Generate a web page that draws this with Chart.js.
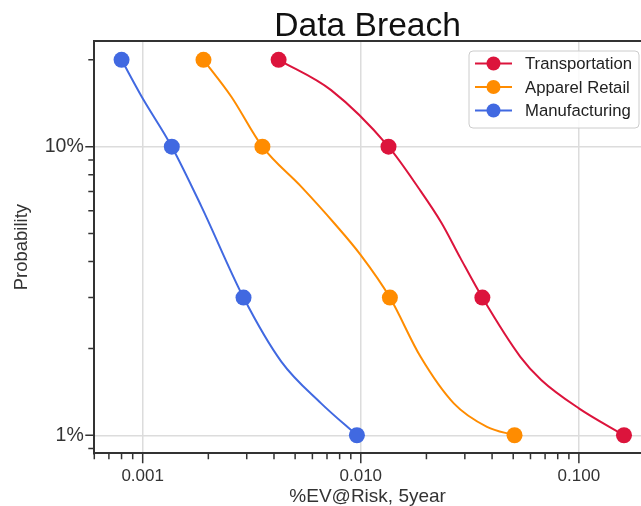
<!DOCTYPE html>
<html lang="en">
<head>
  <meta charset="UTF-8" />
  <title>Data Breach</title>
  <script src="https://cdn.jsdelivr.net/npm/chart.js"></script>
  <style>
    html, body { margin: 0; padding: 0; background: #fff; }
  </style>
</head>
<body>
  <canvas id="chart" width="641" height="506"></canvas>
  <script>
    // data
    const seriesNames = ['Transportation', 'Apparel Retail', 'Manufacturing'];
    const seriesColors = ['#DC143C', '#FF8C00', '#4169E1'];
    const probability = [0.20, 0.10, 0.03, 0.01];
    const transportation = [0.0042, 0.0134, 0.0361, 0.161];
    const apparelRetail = [0.0019, 0.00354, 0.0136, 0.0507];
    const manufacturing = [0.0008, 0.00136, 0.0029, 0.0096];

    // the drawn curves (markers included)
    const transportationCurveX = [0.0042, 0.00731, 0.0134, 0.0184, 0.02346, 0.02864, 0.0361, 0.0539, 0.0672, 0.1, 0.161];
    const transportationCurveY = [0.20, 0.157, 0.10, 0.0719, 0.0544, 0.0411, 0.03, 0.0187, 0.01555, 0.0124, 0.01];
    const apparelCurveX = [0.0019, 0.00255, 0.00354, 0.00533, 0.00754, 0.0100, 0.0136, 0.0188, 0.0267, 0.0379, 0.0507];
    const apparelCurveY = [0.20, 0.149, 0.10, 0.0727, 0.0544, 0.0421, 0.03, 0.0187, 0.0129, 0.0107, 0.01];
    const manufacturingCurveX = [0.0008, 0.00099, 0.00136, 0.00186, 0.0029, 0.00432, 0.00658, 0.0096];
    const manufacturingCurveY = [0.20, 0.149, 0.10, 0.062, 0.03, 0.018, 0.0129, 0.01];

    const xMajorTicks = [0.001, 0.01, 0.1];
    const yMajorTicks = [0.01, 0.1];

    const seriesX = [transportation, apparelRetail, manufacturing];
    const curvesX = [transportationCurveX, apparelCurveX, manufacturingCurveX];
    const curvesY = [transportationCurveY, apparelCurveY, manufacturingCurveY];
    const FONT = 'Liberation Sans';
    Chart.defaults.font.family = FONT;

    const isMajor = (v, list) => list.some(m => Math.abs(v / m - 1) < 1e-6);

    // 1..9 x 10^n ticks inside the axis range
    function logTicks(min, max) {
      const out = [];
      for (let e = Math.floor(Math.log10(min)); e <= Math.ceil(Math.log10(max)); e++) {
        for (let m = 1; m <= 9; m++) {
          const v = m * Math.pow(10, e);
          if (v >= min && v <= max) out.push({ value: v });
        }
      }
      return out;
    }

    const frame = {
      id: 'frame',
      afterDraw(chart) {
        const { ctx, chartArea: a, scales } = chart;
        ctx.save();
        ctx.strokeStyle = '#333';
        ctx.lineWidth = 1.5;
        ctx.beginPath();
        scales.x.ticks.forEach(t => {
          const px = scales.x.getPixelForValue(t.value);
          const len = isMajor(t.value, xMajorTicks) ? 10 : 6;
          ctx.moveTo(px, a.bottom);
          ctx.lineTo(px, a.bottom + len);
        });
        scales.y.ticks.forEach(t => {
          const py = scales.y.getPixelForValue(t.value);
          const len = isMajor(t.value, yMajorTicks) ? 9 : 6;
          ctx.moveTo(a.left, py);
          ctx.lineTo(a.left - len, py);
        });
        ctx.stroke();
        // top spine
        ctx.lineWidth = 2;
        ctx.beginPath();
        ctx.moveTo(a.left - 1, a.top);
        ctx.lineTo(a.right, a.top);
        ctx.stroke();

        // legend box
        const lx = a.right - 172, ly = a.top + 10, lw = 170, lh = 77;
        ctx.fillStyle = 'rgba(255,255,255,0.85)';
        ctx.strokeStyle = '#cccccc';
        ctx.lineWidth = 1;
        ctx.beginPath();
        ctx.roundRect(lx, ly, lw, lh, 4);
        ctx.fill();
        ctx.stroke();
        chart.data.datasets.filter(ds => ds.showLine === false).forEach((ds, i) => {
          const cy = ly + 12.5 + i * 23.5;
          ctx.strokeStyle = ds.borderColor;
          ctx.lineWidth = 2;
          ctx.beginPath();
          ctx.moveTo(lx + 6, cy);
          ctx.lineTo(lx + 43, cy);
          ctx.stroke();
          ctx.fillStyle = ds.borderColor;
          ctx.beginPath();
          ctx.arc(lx + 24.5, cy, 7, 0, Math.PI * 2);
          ctx.fill();
          ctx.fillStyle = '#222';
          ctx.font = '16.7px "' + FONT + '"';
          ctx.textBaseline = 'middle';
          ctx.textAlign = 'left';
          ctx.fillText(ds.label, lx + 56, cy + 1);
        });
        ctx.restore();
      }
    };

    const lineSets = seriesNames.map((name, i) => ({
      label: name + ' curve',
      data: curvesX[i].map((x, j) => ({ x: x, y: curvesY[i][j] })),
      borderColor: seriesColors[i],
      borderWidth: 2,
      pointRadius: 0,
      pointHoverRadius: 0,
      cubicInterpolationMode: 'monotone',
      fill: false,
      order: 2
    }));
    const markerSets = seriesNames.map((name, i) => ({
      label: name,
      data: seriesX[i].map((x, j) => ({ x: x, y: probability[j] })),
      borderColor: seriesColors[i],
      backgroundColor: seriesColors[i],
      showLine: false,
      pointRadius: 8,
      pointHoverRadius: 8,
      pointBorderWidth: 0,
      order: 1
    }));

    new Chart(document.getElementById('chart'), {
      type: 'line',
      data: { datasets: lineSets.concat(markerSets) },
      options: {
        responsive: false,
        animation: false,
        events: [],
        layout: { padding: 0, autoPadding: false },
        plugins: {
          legend: { display: false },
          tooltip: { enabled: false },
          title: {
            display: true,
            text: 'Data Breach',
            fullSize: false,
            color: '#111',
            font: { family: FONT, size: 33.6, weight: 'normal', lineHeight: 1.0 },
            padding: { top: 9.5, bottom: -2.1 }
          }
        },
        scales: {
          x: {
            type: 'logarithmic',
            min: 0.000612,
            max: 0.1927,
            afterBuildTicks: s => { s.ticks = logTicks(s.min, s.max); },
            afterFit: s => { s.height = 52.7; },
            grid: {
              color: c => (c.tick && isMajor(c.tick.value, xMajorTicks)) ? '#dcdcdc' : 'rgba(0,0,0,0)',
              lineWidth: 1.5,
              drawTicks: false
            },
            border: { display: true, color: '#333', width: 2 },
            ticks: {
              autoSkip: false,
              maxRotation: 0,
              padding: 13,
              color: '#333',
              font: { size: 17 },
              callback: v => isMajor(v, xMajorTicks) ? v.toFixed(3) : ''
            },
            title: {
              display: true,
              text: '%EV@Risk, 5year',
              color: '#333',
              font: { size: 19 },
              padding: { top: 0, bottom: -2 }
            }
          },
          y: {
            type: 'logarithmic',
            min: 0.00866,
            max: 0.2324,
            afterBuildTicks: s => { s.ticks = logTicks(s.min, s.max); },
            afterFit: s => { s.width = 94.3; },
            grid: {
              color: c => (c.tick && isMajor(c.tick.value, yMajorTicks)) ? '#dcdcdc' : 'rgba(0,0,0,0)',
              lineWidth: 1.5,
              drawTicks: false
            },
            border: { display: true, color: '#333', width: 2 },
            ticks: {
              autoSkip: false,
              padding: 10.5,
              color: '#333',
              font: { size: 19.5 },
              callback: v => isMajor(v, yMajorTicks) ? Math.round(v * 100) + '%' : ''
            },
            title: {
              display: true,
              text: 'Probability',
              color: '#333',
              font: { size: 18.5 },
              padding: { top: 11, bottom: 0 }
            }
          }
        }
      },
      plugins: [frame]
    });
  </script>
</body>
</html>
